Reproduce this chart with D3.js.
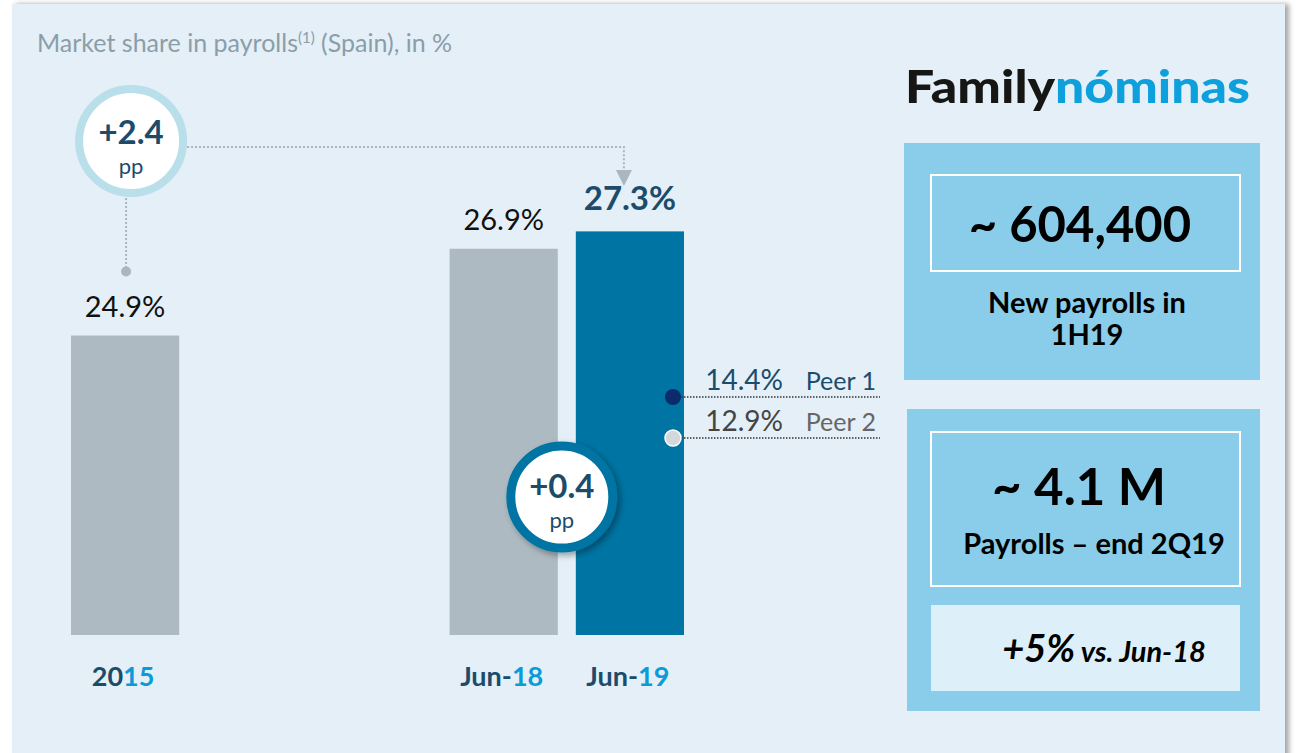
<!DOCTYPE html>
<html>
<head>
<meta charset="utf-8">
<script src="https://cdn.jsdelivr.net/npm/d3@7"></script>
<style>
  body { margin: 0; background: #ffffff; }
  svg { display: block; font-family: Lato, "Open Sans", sans-serif; }
</style>
</head>
<body>
<svg id="chart" width="1296" height="753"></svg>
<script>
// data
const categories = ["2015", "Jun-18", "Jun-19"];
const shares = [24.9, 26.9, 27.3];
const slots = ["2015", "gap1", "gap2", "Jun-18", "Jun-19"];
const peerNames = ["Peer 1", "Peer 2"];
const peerShares = [14.4, 12.9];
const kpiValues = ["~ 604,400", "~ 4.1 M"];
const kpiLabels = [["New payrolls in", "1H19"], ["Payrolls – end 2Q19"]];
const growthLabel = ["+5%", " vs. Jun-18"];

const darkTeal = "#1b4c6b";
const lightBlue = "#0a9bd8";
const grayBar = "#adbac1";
const blueBar = "#0074a3";

let svg = d3.select("#chart");

let defs = svg.append("defs");
let shadow = defs.append("filter").attr("id", "shadow").attr("x", "-20%").attr("y", "-20%").attr("width", "150%").attr("height", "150%");
shadow.append("feDropShadow").attr("dx", 3).attr("dy", 3).attr("stdDeviation", 3).attr("flood-color", "#000").attr("flood-opacity", 0.35);
let panelShadow = defs.append("filter").attr("id", "pshadow").attr("x", "-5%").attr("y", "-5%").attr("width", "110%").attr("height", "110%");
panelShadow.append("feDropShadow").attr("dx", 4).attr("dy", 0).attr("stdDeviation", 2.5).attr("flood-color", "#000").attr("flood-opacity", 0.35);

// background panel
svg.append("rect").attr("x", 12).attr("y", 4).attr("width", 1273).attr("height", 760)
  .attr("fill", "#e4eff7").attr("filter", "url(#pshadow)");

// title
let title = svg.append("text").attr("x", 37).attr("y", 52).attr("fill", "#8a9ea9").style("font-size", "25px");
title.append("tspan").text("Market share in payrolls");
title.append("tspan").text("(1)").attr("dy", -9).style("font-size", "15px");
title.append("tspan").text(" (Spain), in %").attr("dy", 9);

// scales
let x = d3.scaleBand().domain(slots).range([71, 684]).paddingInner(18 / 126).paddingOuter(0);
let y = d3.scaleLinear().domain([18, 28]).range([635, 201]);
let peerY = d3.scaleLinear().domain([12.9, 14.4]).range([438, 397]);
let fmtPct = d3.format(".1f");
let fmtDelta = d3.format("+.1f");

let plot = svg.append("g").attr("id", "plot");

// bars
plot.selectAll("rect.bar").data(categories).enter().append("rect")
  .attr("class", "bar")
  .attr("x", d => x(d))
  .attr("width", x.bandwidth())
  .attr("y", (d, i) => y(shares[i]))
  .attr("height", (d, i) => y(18) - y(shares[i]))
  .attr("fill", (d, i) => i == categories.length - 1 ? blueBar : grayBar);

// value labels
plot.selectAll("text.val").data(categories).enter().append("text")
  .attr("class", "val")
  .attr("x", d => x(d) + x.bandwidth() / 2)
  .attr("y", (d, i) => y(shares[i]) - (i == categories.length - 1 ? 21 : 19))
  .attr("text-anchor", "middle")
  .attr("fill", (d, i) => i == categories.length - 1 ? darkTeal : "#111")
  .style("font-size", (d, i) => i == categories.length - 1 ? "33px" : "29px")
  .style("font-weight", (d, i) => i == categories.length - 1 ? "bold" : "normal")
  .text((d, i) => fmtPct(shares[i]) + "%");

// category labels
let catLabels = plot.selectAll("text.cat").data(categories).enter().append("text")
  .attr("class", "cat")
  .attr("x", d => x(d) + x.bandwidth() / 2 - 2)
  .attr("y", 686)
  .attr("text-anchor", "middle")
  .style("font-size", "27px")
  .style("font-weight", "bold");
catLabels.append("tspan").attr("fill", darkTeal).text(d => d.slice(0, d.length - 2));
catLabels.append("tspan").attr("fill", lightBlue).text(d => d.slice(d.length - 2));

// connector from 2015 to Jun-19
let first = categories[0], last = categories[categories.length - 1];
let cx1 = x(first) + x.bandwidth() / 2 + 6, cy1 = 141;
let arrowX = x(last) + x.bandwidth() / 2 - 6;
plot.append("path")
  .attr("d", "M" + (cx1 + 56) + "," + 147 + "H" + arrowX + "V" + 172)
  .attr("fill", "none").attr("stroke", "#a9b7bf").attr("stroke-width", 2).attr("stroke-dasharray", "2,2");
plot.append("path")
  .attr("d", "M" + (arrowX - 8) + ",170L" + (arrowX + 8) + ",170L" + arrowX + ",186Z")
  .attr("fill", "#a9b7bf");
plot.append("path")
  .attr("d", "M" + (cx1 - 5) + "," + (cy1 + 57) + "V" + (y(shares[0]) - 64))
  .attr("fill", "none").attr("stroke", "#a9b7bf").attr("stroke-width", 2).attr("stroke-dasharray", "2,2");
plot.append("circle").attr("cx", cx1 - 5).attr("cy", y(shares[0]) - 64).attr("r", 5).attr("fill", "#a9b7bf");

// +2.4 badge
let badge1 = plot.append("g").attr("transform", "translate(" + cx1 + "," + cy1 + ")");
badge1.append("circle").attr("r", 52).attr("fill", "#fff").attr("stroke", "#b9dfea").attr("stroke-width", 8);
badge1.append("text").attr("y", 3).attr("text-anchor", "middle").attr("fill", darkTeal)
  .style("font-size", "33px").style("font-weight", "bold").text(fmtDelta(shares[2] - shares[0]));
badge1.append("text").attr("y", 33).attr("text-anchor", "middle").attr("fill", darkTeal)
  .style("font-size", "22px").text("pp");

// peer markers
let peerColors = ["#0b2b6b", "#d3d8db"];
let peerValColors = [darkTeal, "#444"];
let peerNameColors = [darkTeal, "#666"];
let peerX = x(last) + x.bandwidth() - 11;
peerNames.forEach(function(name, i) {
  let py = peerY(peerShares[i]);
  plot.append("line").attr("x1", peerX + 8).attr("x2", 880).attr("y1", py).attr("y2", py)
    .attr("stroke", "#333").attr("stroke-width", 1.5).attr("stroke-dasharray", "1.5,1.5");
  plot.append("circle").attr("cx", peerX).attr("cy", py).attr("r", 8)
    .attr("fill", peerColors[i]).attr("stroke", i == 1 ? "#fff" : "none").attr("stroke-width", 1.5);
  plot.append("text").attr("x", 783).attr("y", py - 7).attr("text-anchor", "end")
    .attr("fill", peerValColors[i]).style("font-size", "28px").text(fmtPct(peerShares[i]) + "%");
  plot.append("text").attr("x", 876).attr("y", py - 7).attr("text-anchor", "end")
    .attr("fill", peerNameColors[i]).style("font-size", "25px").text(name);
});

// +0.4 badge
let badge2 = plot.append("g").attr("transform", "translate(" + (x(categories[1]) + x.bandwidth() + 4) + ",497)");
badge2.append("circle").attr("r", 51).attr("fill", "#fff").attr("stroke", blueBar).attr("stroke-width", 9)
  .attr("filter", "url(#shadow)");
badge2.append("text").attr("y", 1).attr("text-anchor", "middle").attr("fill", darkTeal)
  .style("font-size", "33px").style("font-weight", "bold").text(fmtDelta(shares[2] - shares[1]));
badge2.append("text").attr("y", 31).attr("text-anchor", "middle").attr("fill", darkTeal)
  .style("font-size", "22px").text("pp");

// logo
let logo = svg.append("text").attr("x", 905).attr("y", 103)
  .style("font-size", "46px").style("font-weight", 900).attr("textLength", 345).attr("lengthAdjust", "spacingAndGlyphs");
logo.append("tspan").attr("fill", "#161614").text("Family");
logo.append("tspan").attr("fill", "#0ea0dc").text("nóminas");

// KPI boxes
let kpi = svg.append("g");
kpi.append("rect").attr("x", 904).attr("y", 143).attr("width", 356).attr("height", 237).attr("fill", "#89cdeb");
kpi.append("rect").attr("x", 931).attr("y", 175).attr("width", 309).attr("height", 96).attr("fill", "none").attr("stroke", "#fff").attr("stroke-width", 2);
kpi.append("text").attr("x", 1080).attr("y", 242).attr("text-anchor", "middle").attr("fill", "#000")
  .style("font-size", "49px").style("font-weight", "bold").text(kpiValues[0]);
kpiLabels[0].forEach(function(t, i) {
  kpi.append("text").attr("x", 1087).attr("y", 313 + i * 32).attr("text-anchor", "middle").attr("fill", "#000")
    .style("font-size", "29px").style("font-weight", "bold").text(t);
});

kpi.append("rect").attr("x", 907).attr("y", 409).attr("width", 353).attr("height", 302).attr("fill", "#89cdeb");
kpi.append("rect").attr("x", 931).attr("y", 432).attr("width", 309).attr("height", 154).attr("fill", "none").attr("stroke", "#fff").attr("stroke-width", 2);
kpi.append("text").attr("x", 1079).attr("y", 505).attr("text-anchor", "middle").attr("fill", "#000")
  .style("font-size", "51px").style("font-weight", "bold").text(kpiValues[1]);
kpi.append("text").attr("x", 1094).attr("y", 554).attr("text-anchor", "middle").attr("fill", "#000")
  .style("font-size", "29px").style("font-weight", "bold").text(kpiLabels[1][0]);
kpi.append("rect").attr("x", 931).attr("y", 605).attr("width", 309).attr("height", 86).attr("fill", "#ddeff8");
let growth = kpi.append("text").attr("x", 1104).attr("y", 662).attr("text-anchor", "middle").attr("fill", "#000")
  .style("font-weight", "bold").style("font-style", "italic");
growth.append("tspan").style("font-size", "38px").text(growthLabel[0]);
growth.append("tspan").style("font-size", "29px").text(growthLabel[1]);
</script>
</body>
</html>
